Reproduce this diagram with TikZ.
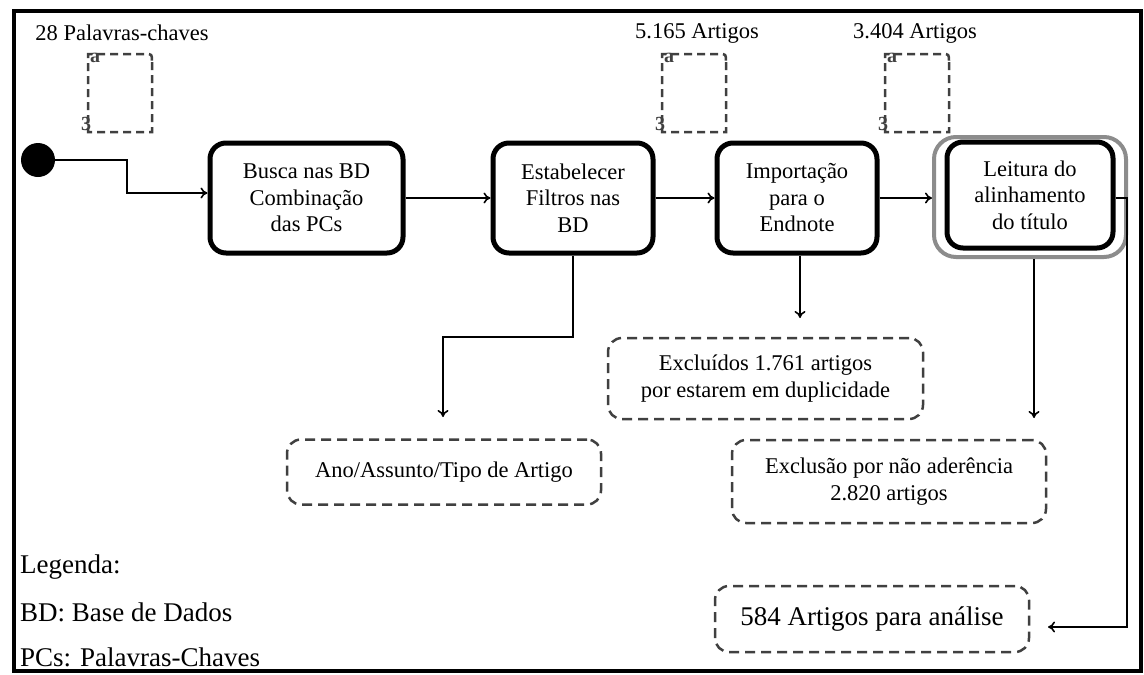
\documentclass[tikz,border=0pt]{standalone}
\usepackage{fontspec}
\setmainfont{Liberation Serif}
\usetikzlibrary{arrows.meta,calc}
\newcommand{\fsbox}{\fontsize{22.5}{26.5}\selectfont}
\newcommand{\fsbig}{\fontsize{27}{30}\selectfont}
\definecolor{dashgray}{HTML}{404040}
\definecolor{framegray}{HTML}{8C8C8C}
\tikzset{
  proc/.style={draw=black, line width=5pt, rounded corners=16pt, align=center, font=\fsbox, inner sep=0pt, fill=white},
  outerproc/.style={draw=framegray, line width=4pt, rounded corners=22pt, inner sep=0pt},
  dbox/.style={draw=dashgray, line width=2.5pt, dash pattern=on 10pt off 6pt, rounded corners=14pt, align=center, inner sep=0pt},
  conn/.style={draw=black, line width=1.6pt, -{To[length=7pt,width=11pt,line width=1.6pt]}},
  lbl/.style={font=\fsbox, inner sep=0pt},
  leg/.style={font=\fsbig, inner sep=0pt, anchor=west},
  dobj/.style={draw=dashgray, line width=2.5pt, dash pattern=on 8pt off 5pt},
  glyph/.style={font=\fontsize{20}{20}\selectfont\bfseries, inner sep=0pt, text=dashgray, text height=9pt, text depth=0pt}
}
\begin{document}
\begin{tikzpicture}[x=1pt,y=-1pt]
\useasboundingbox (0,0) rectangle (1144,675);
\fill[white] (0,0) rectangle (1144,675);
% outer frame
\draw[line width=4pt] (14,11) rectangle (1141,671);

% data objects
\foreach \dx/\nm in {0/a, 574/b, 797/c}{
  \begin{scope}[xshift=\dx]
    \draw[dobj] (152,62) -- (152,132) -- (88,132) -- (88,54) -- (145,54) .. controls (152,54) .. (152,62);
    \node[glyph] (g1\nm) at (95,58) {a};
    \node[glyph] (g2\nm) at (86,126) {3};
  \end{scope}
}

% labels
\node[lbl] (l1) at (122,33) {28 Palavras-chaves};
\node[lbl] (l2) at (697,33) {5.165 Artigos};
\node[lbl] (l3) at (915,33) {3.404 Artigos};

% start
\node[circle, fill=black, minimum size=34pt, inner sep=0pt] (start) at (38,160) {};

% process boxes
\node[proc, minimum width=193pt, minimum height=110pt] (b1) at (306.5,198) {Busca nas BD\\Combinação\\das PCs};
\node[proc, minimum width=160pt, minimum height=110pt] (b2) at (573,198) {Estabelecer\\Filtros nas\\BD};
\node[proc, minimum width=160pt, minimum height=110pt] (b3) at (797,198) {Importação\\para o\\Endnote};
\node[outerproc, minimum width=192pt, minimum height=120pt] (b4o) at (1030,197) {};
\node[proc, minimum width=166pt, minimum height=106pt] (b4) at (1030,195) {Leitura do\\alinhamento\\do título};

% dashed boxes
\node[dbox, minimum width=314pt, minimum height=65pt, font=\fsbox] (ano) at (444,472) {Ano/Assunto/Tipo de Artigo};
\node[dbox, minimum width=315pt, minimum height=81pt, font=\fsbox] (exc) at (765.5,378.5) {Excluídos 1.761 artigos\\por estarem em duplicidade};
\node[dbox, minimum width=314pt, minimum height=83pt, font=\fsbox] (exl) at (889,481.5) {Exclusão por não aderência\\2.820 artigos};
\node[dbox, minimum width=314pt, minimum height=66pt, font=\fsbig] (fin) at (872,619) {584 Artigos para análise};

% legend
\node[leg] (lg1) at (20,567) {Legenda:};
\node[leg] (lg2) at (20,612) {BD: Base de Dados};
\node[leg] (lg3) at (20,657) {PCs: Palavras-Chaves};

% connectors
\coordinate (c1) at (127,193);
\draw[conn] (start.east) -| (c1) -- (c1 -| b1.west);
\draw[conn] (b1.east) -- (b2.west);
\draw[conn] (b2.east) -- (b3.west);
\draw[conn] (b3.east) -- (b3.east -| b4o.west);

\coordinate (c2) at (443,337);
\coordinate (c2e) at (443,417);
\draw[conn] (b2.south) |- (c2) -- (c2e);

\coordinate (c3) at (800,318);
\draw[conn] (b3.south -| c3) -- (c3);

\coordinate (c4) at (1034,418);
\draw[conn] (b4o.south -| c4) -- (c4);

\coordinate (c5) at (1127,198);
\coordinate (c6) at (1127,627);
\coordinate (c7) at (1048,627);
\draw[conn] (b4.east |- c5) -- (c5) -- (c6) -- (c7);
\end{tikzpicture}
\end{document}
